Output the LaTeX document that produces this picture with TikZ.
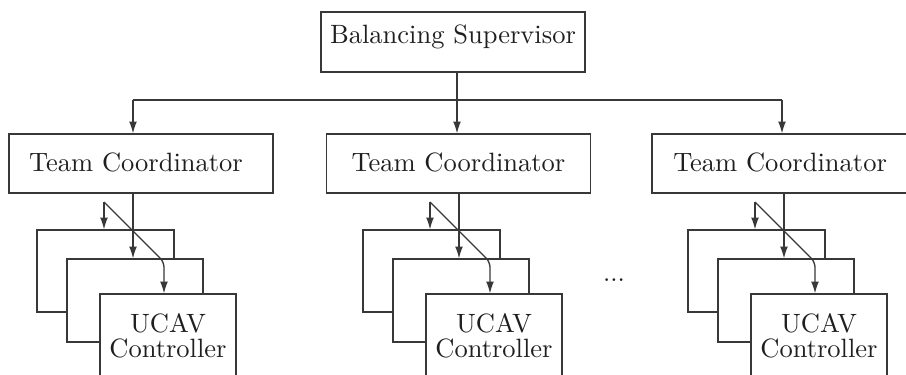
\documentclass[tikz,border=0pt]{standalone}
\usetikzlibrary{arrows.meta}
\newdimen\ux \ux=0.383pt
\definecolor{ln}{gray}{0.22}
\definecolor{tx}{gray}{0.12}
\tikzset{
  box/.style={draw=ln, line width=0.5pt, fill=white, rectangle, inner sep=0pt, text=tx, font={\fontsize{10.15pt}{12pt}\selectfont}},
  supbox/.style={box, minimum width=264*\ux, minimum height=60*\ux, text height=31*\ux, text depth=29*\ux},
  tcbox/.style={box, minimum width=264*\ux, minimum height=59*\ux, text height=37*\ux, text depth=22*\ux},
  ubox/.style={box, minimum width=136*\ux, minimum height=83*\ux, align=center, font={\fontsize{10.15pt}{9.6pt}\selectfont}},
  arr/.style={draw=ln, line width=0.5pt, -{Latex[length=4.5pt,width=3pt]}},
  ln/.style={draw=ln, line width=0.5pt},
}
\begin{document}
\begin{tikzpicture}[x=0.383pt, y=-0.383pt]
\useasboundingbox (0,0) rectangle (906,374);
\clip (0,0) rectangle (906,374);
% top
\node[supbox] (sup) at (453,42) {Balancing Supervisor};
\coordinate (c1) at (133,100);
\coordinate (c2) at (457,100);
\coordinate (c3) at (782,100);
% team coordinators
\node[tcbox] (tc1) at (141,163.5) {Team Coordinator\hspace*{3.8pt}};
\node[tcbox] (tc2) at (458.5,163.5) {Team Coordinator};
\node[tcbox] (tc3) at (784,163.5) {Team Coordinator\hspace*{3pt}};
\draw[ln] (c1) -- (c3);
\draw[arr] (sup.south -| c2) -- (c2 |- tc2.north);
\draw[arr] (c1) -- (c1 |- tc1.north);
\draw[arr] (c3) -- (c3 |- tc3.north);
% groups
\foreach \g/\i in {133/1, 459/2, 784/3} {
  \node[box, minimum width=137*\ux, minimum height=82*\ux] (b\i) at (\g-27.5,271) {};
  \node[box, minimum width=136*\ux, minimum height=83*\ux] (m\i) at (\g+2,300.5) {};
  \node[ubox] (f\i) at (\g+35,335.5) {UCAV\\Controller};
  \coordinate (s\i) at (\g-29,202);
  \coordinate (k\i) at (\g+31,262);
  \coordinate (v\i) at (\g,0);
  \draw[arr] (tc\i.south -| v\i) -- (v\i |- m\i.north);
  \draw[arr] (s\i) -- (s\i |- b\i.north);
  \draw[arr, rounded corners=2pt] (s\i) -- (k\i) -- (k\i |- f\i.north);
}
\node[text=tx, inner sep=0pt, anchor=base] (dots) at (614,281) {...};
\end{tikzpicture}
\end{document}
